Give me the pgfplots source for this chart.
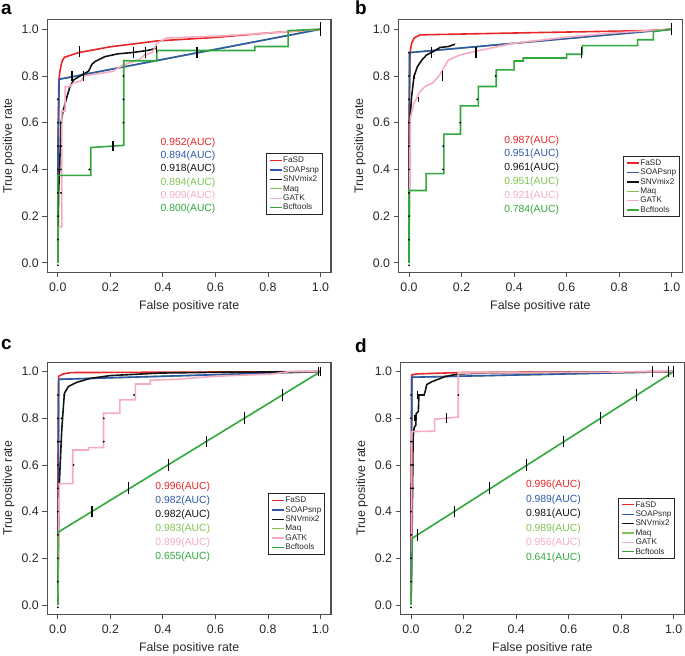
\documentclass[border=0pt]{standalone}
\usepackage{fontspec}
\setmainfont{Liberation Sans}
\usepackage{pgfplots}
\pgfplotsset{compat=1.18}
\definecolor{cfasd}{RGB}{232,38,38}
\definecolor{csoap}{RGB}{46,88,170}
\definecolor{csnv}{RGB}{20,20,20}
\definecolor{cmaq}{RGB}{128,196,80}
\definecolor{cgatk}{RGB}{246,172,190}
\definecolor{cbcf}{RGB}{48,168,60}
\definecolor{axgray}{RGB}{80,80,80}
\definecolor{labgray}{RGB}{40,40,40}
\newcommand{\ticksize}{\fontsize{12.4}{14}\selectfont}
\pgfplotsset{
  rocaxis/.style={
    scale only axis, width=283.7bp, height=252.4bp,
    xmin=-0.04, xmax=1.04, ymin=-0.04, ymax=1.04,
    xtick={0,0.2,0.4,0.6,0.8,1}, ytick={0,0.2,0.4,0.6,0.8,1},
    axis line style={draw=axgray, line width=1.1bp},
    tick style={axgray, line width=0.9bp},
    tick align=outside, major tick length=5bp,
    xtick pos=bottom, ytick pos=left,
    tick label style={font=\ticksize, text=labgray},
    xticklabel style={yshift=-2bp, /pgf/number format/fixed, /pgf/number format/fixed zerofill, /pgf/number format/precision=1, /pgf/number format/assume math mode=true},
    yticklabel style={/pgf/number format/fixed, /pgf/number format/fixed zerofill, /pgf/number format/precision=1, /pgf/number format/assume math mode=true},
    xlabel={False positive rate}, ylabel={True positive rate},
    label style={font=\ticksize, text=labgray},
    xlabel style={at={(axis description cs:0.5,-0.147)}, anchor=base},
    ylabel style={at={(axis description cs:-0.1245,0.5)}, anchor=base},
    every axis plot/.append style={line width=1.6bp},
    unbounded coords=jump,
    legend cell align=left,
    legend image code/.code={\draw[#1] (0bp,0bp) -- (12bp,0bp);},
    legend style={draw=black!85, line width=0.9bp, fill=white, anchor=north east,
      font=\fontsize{8.2}{9}\selectfont, text=labgray, inner xsep=2.5bp, inner ysep=2bp,
      row sep=0pt, nodes={inner sep=0.8bp, text height=6.2bp, text depth=1.6bp}},
  },
  ebar/.style={black, line width=1.1bp, forget plot, mark=none},
  edot/.style={only marks, mark=*, mark size=0.75bp, black, forget plot, mark options={draw=black, fill=black, line width=0.3bp}},
}
\newcommand{\rocLegend}{%
  \addlegendimage{cfasd, line width=1.3bp}\addlegendentry{FaSD}
  \addlegendimage{csoap, line width=1.3bp}\addlegendentry{SOAPsnp}
  \addlegendimage{csnv, line width=1.3bp}\addlegendentry{SNVmix2}
  \addlegendimage{cmaq, line width=1.3bp}\addlegendentry{Maq}
  \addlegendimage{cgatk, line width=1.3bp}\addlegendentry{GATK}
  \addlegendimage{cbcf, line width=1.3bp}\addlegendentry{Bcftools}}
\newcommand{\auctext}[9]{%
  \node[anchor=west, font=\fontsize{10.4}{12}\selectfont, text=cfasd, inner sep=0pt] at (axis cs:#1,#2) {#4(AUC)};
  \node[anchor=west, font=\fontsize{10.4}{12}\selectfont, text=csoap, inner sep=0pt] at (axis cs:#1,#2-#3) {#5(AUC)};
  \node[anchor=west, font=\fontsize{10.4}{12}\selectfont, text=csnv, inner sep=0pt] at (axis cs:#1,#2-2*#3) {#6(AUC)};
  \node[anchor=west, font=\fontsize{10.4}{12}\selectfont, text=cmaq, inner sep=0pt] at (axis cs:#1,#2-3*#3) {#7(AUC)};
  \node[anchor=west, font=\fontsize{10.4}{12}\selectfont, text=cgatk, inner sep=0pt] at (axis cs:#1,#2-4*#3) {#8(AUC)};
  \node[anchor=west, font=\fontsize{10.4}{12}\selectfont, text=cbcf, inner sep=0pt] at (axis cs:#1,#2-5*#3) {#9(AUC)};}
\begin{document}
\begin{tikzpicture}
\useasboundingbox (0,0) rectangle (685bp,656bp);
% panel letters
\node[anchor=base west, font=\fontsize{19}{20}\bfseries, inner sep=0pt] at (1bp,641bp) {a};
\node[anchor=base west, font=\fontsize{19}{20}\bfseries, inner sep=0pt] at (355bp,641bp) {b};
\node[anchor=base west, font=\fontsize{19}{20}\bfseries, inner sep=0pt] at (1bp,306bp) {c};
\node[anchor=base west, font=\fontsize{19}{20}\bfseries, inner sep=0pt] at (355bp,303bp) {d};

% ---------------- panel a ----------------
\begin{axis}[rocaxis, at={(47.3bp,383.7bp)}, anchor=south west,
  legend style={at={(axis description cs:0.971,0.471)}}]
\addplot[cmaq, forget plot] coordinates {(0,0) (0,0.4) (0.005,0.786) (1,1)};
\addplot[cfasd, forget plot] coordinates {(0,0) (0,0.4) (0.004,0.78) (0.008,0.82) (0.015,0.86) (0.025,0.88) (0.079,0.90) (0.2,0.925) (0.288,0.937) (0.377,0.95) (0.6,0.965) (0.8,0.984) (0.88,0.99) (1,1)};
\addplot[csoap, forget plot] coordinates {(0,0) (0,0.4) (0.005,0.786) (1,1)};
\addplot[csnv, forget plot] coordinates {(0,0) (0.003,0.3) (0.007,0.41) (0.012,0.6) (0.02,0.65) (0.032,0.70) (0.045,0.75) (0.06,0.783) (0.092,0.805) (0.117,0.82) (0.13,0.85) (0.142,0.862) (0.18,0.883) (0.23,0.895) (0.282,0.90) (0.34,0.909) (0.377,0.919)};
\addplot[cgatk, forget plot] coordinates {(0,0) (0,0.155) (0.015,0.155) (0.015,0.65) (0.028,0.65) (0.028,0.755) (0.045,0.755) (0.06,0.77) (0.09,0.78) (0.1,0.80) (0.21,0.82) (0.25,0.848) (0.31,0.87) (0.33,0.89) (0.36,0.9) (0.377,0.94) (0.415,0.963) (0.6,0.97) (0.75,0.98) (0.88,0.99) (1,1)};
\addplot[cbcf, forget plot] coordinates {(0,0) (0,0.375) (0.126,0.375) (0.126,0.494) (0.251,0.503) (0.251,0.865) (0.377,0.865) (0.377,0.909) (0.75,0.909) (0.75,0.926) (0.877,0.926) (0.877,0.994) (1,1)};
\addplot[ebar] coordinates {(0.083,0.883) (0.083,0.927) (0.083,nan) (0.054,0.778) (0.054,0.822) (0.054,nan) (0.098,0.778) (0.098,0.822) (0.098,nan) (0.287,0.878) (0.287,0.922) (0.287,nan) (0.334,0.878) (0.334,0.922) (0.334,nan) (0.377,0.90) (0.377,0.93) (0.377,nan) (0.53,0.878) (0.53,0.922) (0.53,nan) (0.21,0.478) (0.21,0.522) (0.21,nan) (1,0.97) (1,1.03)};
\addplot[edot] coordinates {(0,0.1) (0,0.2) (0,0.3) (0,0.4) (0,0.5) (0,0.6) (0,0.7) (0.012,0.3) (0.012,0.4) (0.012,0.5) (0.012,0.6) (0.25,0.6) (0.25,0.7) (0.25,0.8) (0.12,0.4) (0,-0.01)};
\auctext{0.391}{0.515}{0.057}{0.952}{0.894}{0.918}{0.894}{0.909}{0.800}
\rocLegend
\end{axis}

% ---------------- panel b ----------------
\begin{axis}[rocaxis, at={(398.5bp,383.7bp)}, anchor=south west,
  legend style={at={(axis description cs:0.992,0.461)}}]
\addplot[cmaq, forget plot] coordinates {(0,0) (0.002,0.90) (1,1)};
\addplot[cfasd, forget plot] coordinates {(0,0) (0,0.6) (0.004,0.90) (0.01,0.94) (0.02,0.963) (0.042,0.976) (0.5,0.986) (0.9,0.994) (1,1)};
\addplot[csoap, forget plot] coordinates {(0,0) (0.002,0.90) (1,1)};
\addplot[csnv, forget plot] coordinates {(0,0) (0.002,0.5) (0.004,0.62) (0.01,0.712) (0.019,0.798) (0.032,0.84) (0.05,0.87) (0.067,0.89) (0.093,0.905) (0.118,0.922) (0.15,0.926) (0.175,0.936)};
\addplot[cgatk, forget plot] coordinates {(0,0) (0.002,0.3) (0.005,0.62) (0.019,0.684) (0.042,0.733) (0.061,0.755) (0.09,0.77) (0.118,0.805) (0.131,0.833) (0.15,0.868) (0.194,0.89) (0.25,0.905) (0.296,0.915) (0.397,0.94) (0.6,0.966) (0.8,0.986) (1,1)};
\addplot[cbcf, forget plot] coordinates {(0,0) (0,0.31) (0.065,0.31) (0.065,0.382) (0.133,0.382) (0.133,0.551) (0.196,0.551) (0.196,0.672) (0.264,0.672) (0.264,0.755) (0.332,0.755) (0.332,0.826) (0.4,0.826) (0.4,0.864) (0.435,0.864) (0.435,0.877) (0.6,0.877) (0.6,0.893) (0.66,0.893) (0.66,0.93) (0.87,0.93) (0.87,0.955) (0.93,0.955) (0.93,0.99) (1,1)};
\addplot[ebar] coordinates {(0.086,0.878) (0.086,0.922) (0.086,nan) (0.255,0.878) (0.255,0.922) (0.255,nan) (0.655,0.878) (0.655,0.922) (0.655,nan) (0.126,0.778) (0.126,0.822) (0.126,nan) (0.036,0.688) (0.036,0.712) (0.036,nan) (0.02,0.788) (0.02,0.812) (0.02,nan) (1,0.975) (1,1.025)};
\addplot[edot] coordinates {(0,0.1) (0,0.2) (0,0.3) (0,0.4) (0,0.5) (0,0.6) (0,0.7) (0,0.8) (0,0.9) (0.26,0.70) (0.195,0.60) (0.13,0.5) (0.13,0.4) (0.33,0.80) (0,-0.01)};
\auctext{0.362}{0.524}{0.059}{0.987}{0.951}{0.961}{0.951}{0.921}{0.784}
\rocLegend
\end{axis}

% ---------------- panel c ----------------
\begin{axis}[rocaxis, at={(47.3bp,41.7bp)}, anchor=south west, height=252bp,
  legend style={at={(axis description cs:0.979,0.48)}}]
\addplot[cmaq, forget plot] coordinates {(0,0) (0.002,0.5) (0.003,0.967) (1,1)};
\addplot[cfasd, forget plot] coordinates {(0,0) (0,0.5) (0.003,0.98) (0.02,0.99) (0.05,0.996) (1,1)};
\addplot[csoap, forget plot] coordinates {(0,0) (0.002,0.5) (0.003,0.967) (1,1)};
\addplot[csnv, forget plot] coordinates {(0,0) (0.003,0.3) (0.005,0.5) (0.009,0.6) (0.015,0.75) (0.019,0.814) (0.025,0.907) (0.04,0.936) (0.072,0.954) (0.123,0.971) (0.2,0.983) (0.39,0.994) (0.6,0.997) (1,1)};
\addplot[cgatk, forget plot] coordinates {(0,0) (0.004,0.3) (0.005,0.52) (0.057,0.52) (0.057,0.664) (0.117,0.664) (0.117,0.674) (0.174,0.674) (0.174,0.822) (0.236,0.822) (0.236,0.879) (0.295,0.879) (0.295,0.947) (0.352,0.947) (0.352,0.963) (0.45,0.967) (0.6,0.98) (0.82,0.99) (0.88,1.0) (1,1)};
\addplot[cbcf, forget plot] coordinates {(0,0) (0,0.311) (1,1)};
\addplot[ebar] coordinates {(0.13,0.375) (0.13,0.425) (0.13,nan) (0.27,0.475) (0.27,0.525) (0.27,nan) (0.42,0.575) (0.42,0.625) (0.42,nan) (0.565,0.675) (0.565,0.725) (0.565,nan) (0.71,0.775) (0.71,0.825) (0.71,nan) (0.855,0.875) (0.855,0.925) (0.855,nan) (0.994,0.98) (0.994,1.02) (0.994,nan) (1.0,0.98) (1.0,1.02)};
\addplot[edot] coordinates {(0,0.1) (0,0.2) (0,0.3) (0,0.4) (0,0.5) (0,0.6) (0,0.7) (0,0.8) (0,0.9) (0.007,0.7) (0.014,0.8) (0.025,0.9) (0.06,0.6) (0.175,0.7) (0.175,0.8) (0.29,0.9) (0,-0.01)};
\auctext{0.371}{0.507}{0.0605}{0.996}{0.982}{0.982}{0.983}{0.899}{0.655}
\rocLegend
\end{axis}

% ---------------- panel d ----------------
\begin{axis}[rocaxis, at={(400.5bp,41.7bp)}, anchor=south west, height=252bp,
  legend style={at={(axis description cs:0.968,0.463)}}]
\addplot[cmaq, forget plot] coordinates {(0,0) (0.002,0.5) (0.003,0.976) (1,1)};
\addplot[cfasd, forget plot] coordinates {(0,0) (0,0.5) (0.003,0.986) (0.02,0.99) (0.18,0.996) (1,1)};
\addplot[csoap, forget plot] coordinates {(0,0) (0.002,0.5) (0.003,0.976) (1,1)};
\addplot[csnv, forget plot] coordinates {(0,0) (0.004,0.3) (0.008,0.72) (0.012,0.76) (0.018,0.77) (0.02,0.82) (0.028,0.83) (0.03,0.9) (0.05,0.9) (0.055,0.92) (0.06,0.945) (0.08,0.957) (0.13,0.979) (0.18,0.99) (0.3,0.995) (1,1)};
\addplot[cgatk, forget plot] coordinates {(0,0) (0.003,0.3) (0.003,0.743) (0.09,0.745) (0.09,0.796) (0.18,0.805) (0.18,0.994) (1,1)};
\addplot[cbcf, forget plot] coordinates {(0,0) (0.005,0.286) (1,1)};
\addplot[ebar] coordinates {(0.025,0.275) (0.025,0.325) (0.025,nan) (0.165,0.375) (0.165,0.425) (0.165,nan) (0.30,0.475) (0.30,0.525) (0.30,nan) (0.44,0.575) (0.44,0.625) (0.44,nan) (0.58,0.675) (0.58,0.725) (0.58,nan) (0.72,0.775) (0.72,0.825) (0.72,nan) (0.86,0.875) (0.86,0.925) (0.86,nan) (1.0,0.975) (1.0,1.025) (1.0,nan) (0.92,0.978) (0.92,1.022) (0.92,nan) (0.98,0.978) (0.98,1.022) (0.98,nan) (0.135,0.778) (0.135,0.822) (0.135,nan) (0.025,0.882) (0.025,0.918) (0.025,nan) (0.015,0.788) (0.015,0.812)};
\addplot[edot] coordinates {(0,0.1) (0,0.2) (0,0.3) (0,0.4) (0,0.5) (0,0.6) (0,0.7) (0,0.8) (0,0.9) (0.008,0.7) (0.008,0.6) (0.008,0.5) (0.18,0.9) (0,-0.01)};
\auctext{0.437}{0.514}{0.062}{0.996}{0.989}{0.981}{0.989}{0.956}{0.641}
\rocLegend
\end{axis}
\end{tikzpicture}
\end{document}
